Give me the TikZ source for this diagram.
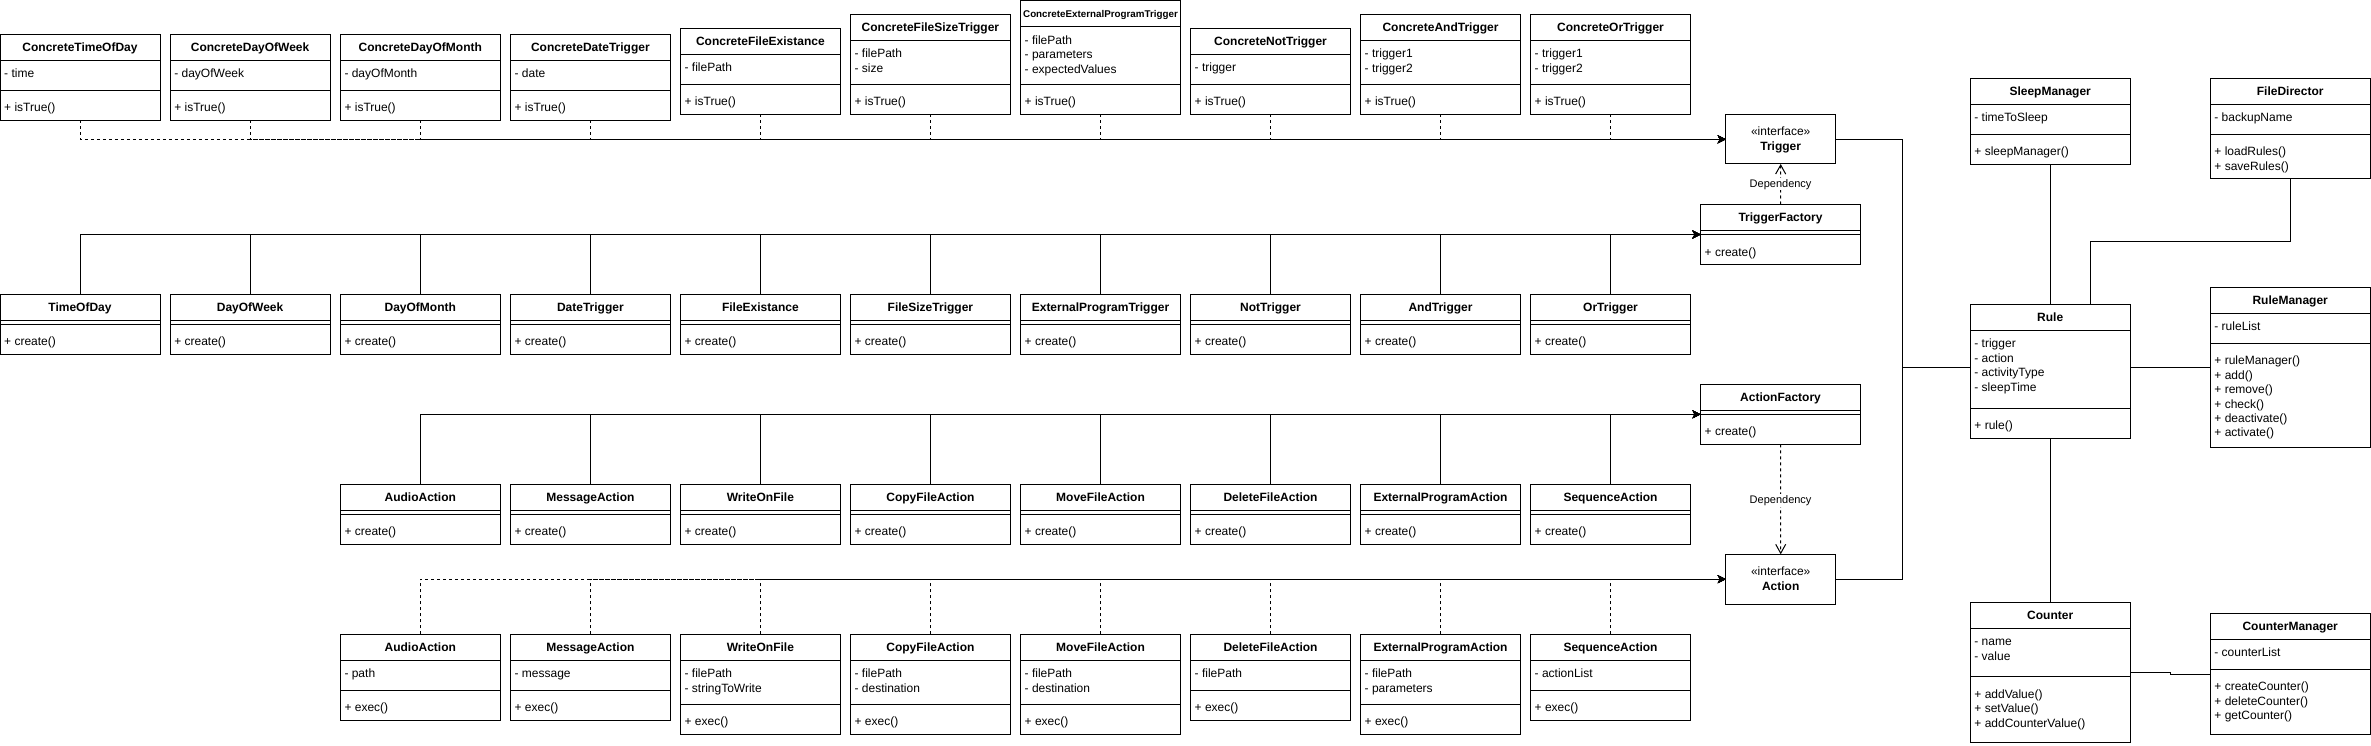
\documentclass[tikz,border=0pt]{standalone}
\usepackage{fontspec}
\setmainfont{Liberation Sans}
\usetikzlibrary{arrows.meta}
\tikzset{
  box/.style={draw=black, line width=1pt, inner sep=0pt, outer sep=0pt, anchor=north west, fill=white},
  sepline/.style={draw=black, line width=1pt},
  ttl/.style={font=\bfseries\fontsize{12}{14.4}\selectfont, inner sep=0pt, anchor=base},
  fld/.style={font=\fontsize{12}{14.4}\selectfont, inner sep=0pt, anchor=base west},
  real/.style={line width=1pt, dash pattern=on 3pt off 3pt, -{Stealth[length=8pt,width=8pt,inset=2pt]}},
  gen/.style={line width=1pt, -{Stealth[length=8pt,width=8pt,inset=2pt]}},
  dep/.style={line width=1pt, dash pattern=on 3pt off 3pt, -{Straight Barb[length=9pt,width=10pt]}},
  assoc/.style={line width=1pt},
  deplabel/.style={font=\fontsize{11}{13}\selectfont, fill=white, inner sep=1pt},
}
% #1 name, #2 x, #3 top, #4 divider y, #5 bottom y, #6 title, #7 attrs, #8 methods
\newcommand{\UMLcls}[8]{%
  \node[box, minimum width=160pt, minimum height={(#5-#3)*1pt}] (#1) at (#2,#3) {};
  \draw[sepline] (#2,#3+26) -- ++(160,0);
  \draw[sepline] (#2,#4) -- ++(160,0);
  \node[ttl] (#1-t) at (#2+80,#3+17.2) {#6};
  \foreach \s [count=\i from 0] in {#7} {\node[fld] (#1-a\i) at (#2+4,#3+43.6+14.4*\i) {\s};}
  \foreach \s [count=\i from 0] in {#8} {\node[fld] (#1-m\i) at (#2+4,#4+21.6+14.4*\i) {\s};}
}
% #1 name, #2 x, #3 top, #4 title
\newcommand{\UMLfac}[4]{%
  \node[box, minimum width=160pt, minimum height=60pt] (#1) at (#2,#3) {};
  \draw[sepline] (#2,#3+26) -- ++(160,0);
  \draw[sepline] (#2,#3+30) -- ++(160,0);
  \node[ttl] (#1-t) at (#2+80,#3+17.2) {#4};
  \node[fld] (#1-m) at (#2+4,#3+51.6) {+ create()};
}
\begin{document}
\begin{tikzpicture}[x=1pt,y=-1pt]
\useasboundingbox (0,0) rectangle (2371,746);

% ---------- row 1: concrete triggers ----------
\UMLcls{ct0}{0}{34.3}{90.3}{120.3}{ConcreteTimeOfDay}{- time}{+ isTrue()}
\UMLcls{ct1}{170.1}{34.3}{90.3}{120.3}{ConcreteDayOfWeek}{- dayOfWeek}{+ isTrue()}
\UMLcls{ct2}{340.3}{34.3}{90.3}{120.3}{ConcreteDayOfMonth}{- dayOfMonth}{+ isTrue()}
\UMLcls{ct3}{510.4}{34.3}{90.3}{120.3}{ConcreteDateTrigger}{- date}{+ isTrue()}
\UMLcls{ct4}{680.4}{28.3}{84.3}{114.3}{ConcreteFileExistance}{- filePath}{+ isTrue()}
\UMLcls{ct5}{850.4}{14.3}{84.3}{114.3}{ConcreteFileSizeTrigger}{- filePath,- size}{+ isTrue()}
\UMLcls{ct6}{1020.5}{0.7}{84.3}{114.3}{{\fontsize{9.8}{11}\selectfont ConcreteExternalProgramTrigger}}{- filePath,- parameters,- expectedValues}{+ isTrue()}
\UMLcls{ct7}{1190.5}{28.3}{84.3}{114.3}{ConcreteNotTrigger}{- trigger}{+ isTrue()}
\UMLcls{ct8}{1360.5}{14.3}{84.3}{114.3}{ConcreteAndTrigger}{- trigger1,- trigger2}{+ isTrue()}
\UMLcls{ct9}{1530.5}{14.3}{84.3}{114.3}{ConcreteOrTrigger}{- trigger1,- trigger2}{+ isTrue()}

% ---------- row 2: trigger factories ----------
\UMLfac{tf0}{0}{294.3}{TimeOfDay}
\UMLfac{tf1}{170.1}{294.3}{DayOfWeek}
\UMLfac{tf2}{340.3}{294.3}{DayOfMonth}
\UMLfac{tf3}{510.4}{294.3}{DateTrigger}
\UMLfac{tf4}{680.4}{294.3}{FileExistance}
\UMLfac{tf5}{850.4}{294.3}{FileSizeTrigger}
\UMLfac{tf6}{1020.5}{294.3}{ExternalProgramTrigger}
\UMLfac{tf7}{1190.5}{294.3}{NotTrigger}
\UMLfac{tf8}{1360.5}{294.3}{AndTrigger}
\UMLfac{tf9}{1530.5}{294.3}{OrTrigger}

% ---------- row 3: action factories ----------
\UMLfac{af2}{340.3}{484.3}{AudioAction}
\UMLfac{af3}{510.4}{484.3}{MessageAction}
\UMLfac{af4}{680.4}{484.3}{WriteOnFile}
\UMLfac{af5}{850.4}{484.3}{CopyFileAction}
\UMLfac{af6}{1020.5}{484.3}{MoveFileAction}
\UMLfac{af7}{1190.5}{484.3}{DeleteFileAction}
\UMLfac{af8}{1360.5}{484.3}{ExternalProgramAction}
\UMLfac{af9}{1530.5}{484.3}{SequenceAction}

% ---------- row 4: concrete actions ----------
\UMLcls{ca2}{340.3}{634.3}{690.3}{720.3}{AudioAction}{- path}{+ exec()}
\UMLcls{ca3}{510.4}{634.3}{690.3}{720.3}{MessageAction}{- message}{+ exec()}
\UMLcls{ca4}{680.4}{634.3}{704.3}{734.3}{WriteOnFile}{- filePath,- stringToWrite}{+ exec()}
\UMLcls{ca5}{850.4}{634.3}{704.3}{734.3}{CopyFileAction}{- filePath,- destination}{+ exec()}
\UMLcls{ca6}{1020.5}{634.3}{704.3}{734.3}{MoveFileAction}{- filePath,- destination}{+ exec()}
\UMLcls{ca7}{1190.5}{634.3}{690.3}{720.3}{DeleteFileAction}{- filePath}{+ exec()}
\UMLcls{ca8}{1360.5}{634.3}{704.3}{734.3}{ExternalProgramAction}{- filePath,- parameters}{+ exec()}
\UMLcls{ca9}{1530.5}{634.3}{690.3}{720.3}{SequenceAction}{- actionList}{+ exec()}

% ---------- interfaces and factories ----------
\node[box, minimum width=110pt, minimum height=49.3pt] (trigger) at (1725.7,114.7) {};
\node[fld, anchor=base] (trigger-s) at (1780.7,135.9) {«interface»};
\node[ttl] (trigger-t) at (1780.7,150.9) {Trigger};
\UMLfac{tfac}{1700.5}{204.5}{TriggerFactory}
\UMLfac{afac}{1700.5}{384.3}{ActionFactory}
\node[box, minimum width=110pt, minimum height=49.7pt] (action) at (1725.7,554.3) {};
\node[fld, anchor=base] (action-s) at (1780.7,575.9) {«interface»};
\node[ttl] (action-t) at (1780.7,590.9) {Action};

% ---------- right side ----------
\UMLcls{sleep}{1970.2}{78.3}{134.3}{164.3}{SleepManager}{- timeToSleep}{+ sleepManager()}
\UMLcls{fdir}{2210.2}{78.3}{134.3}{178.3}{FileDirector}{- backupName}{+ loadRules(),+ saveRules()}
\UMLcls{rule}{1970.2}{304.3}{408.3}{438.3}{Rule}{- trigger,- action,- activityType,- sleepTime}{+ rule()}
\UMLcls{rmgr}{2210.2}{287.3}{343.3}{447.3}{RuleManager}{- ruleList}{+ ruleManager(),+ add(),+ remove(),+ check(),+ deactivate(),+ activate()}
\UMLcls{counter}{1970.2}{602.3}{676.7}{742.3}{Counter}{- name,- value}{+ addValue(),+ setValue(),+ addCounterValue()}
\UMLcls{cmgr}{2210.2}{613}{669}{734.3}{CounterManager}{- counterList}{+ createCounter(),+ deleteCounter(),+ getCounter()}

% ---------- connectors ----------
\foreach \k in {0,...,9} {\draw[real] (ct\k.south) |- (trigger.west);}
\foreach \k in {0,...,9} {\draw[gen] (tf\k.north) |- (tfac.west);}
\foreach \k in {2,...,9} {\draw[gen] (af\k.north) |- (afac.west);}
\foreach \k in {2,...,9} {\draw[real] (ca\k.north) |- (action.west);}

\draw[dep] (tfac.north) -- (trigger.south) node[deplabel, midway] (dep1) {Dependency};
\draw[dep] (afac.south) -- (action.north) node[deplabel, pos=0.51] (dep2) {Dependency};

\coordinate (jn) at (1902.9,367.3);
\draw[assoc] (trigger.east) -| (jn);
\draw[assoc] (action.east) -| (jn);
\draw[assoc] (jn) -- (jn -| rule.west);
\draw[assoc] (jn -| rule.east) -- (jn -| rmgr.west);
\draw[assoc] (sleep.south) -- (rule.north);
\coordinate (fj) at (2090.2,241.3);
\draw[assoc] (fdir.south) |- (fj) -- (fj |- rule.north);
\draw[assoc] (rule.south) -- (counter.north);
\coordinate (cj) at (2170.7,672.7);
\draw[assoc] (cj -| counter.east) -- (cj) -- ++(0,1.6) -- (cmgr.west |- 0,674.3);
\end{tikzpicture}
\end{document}
